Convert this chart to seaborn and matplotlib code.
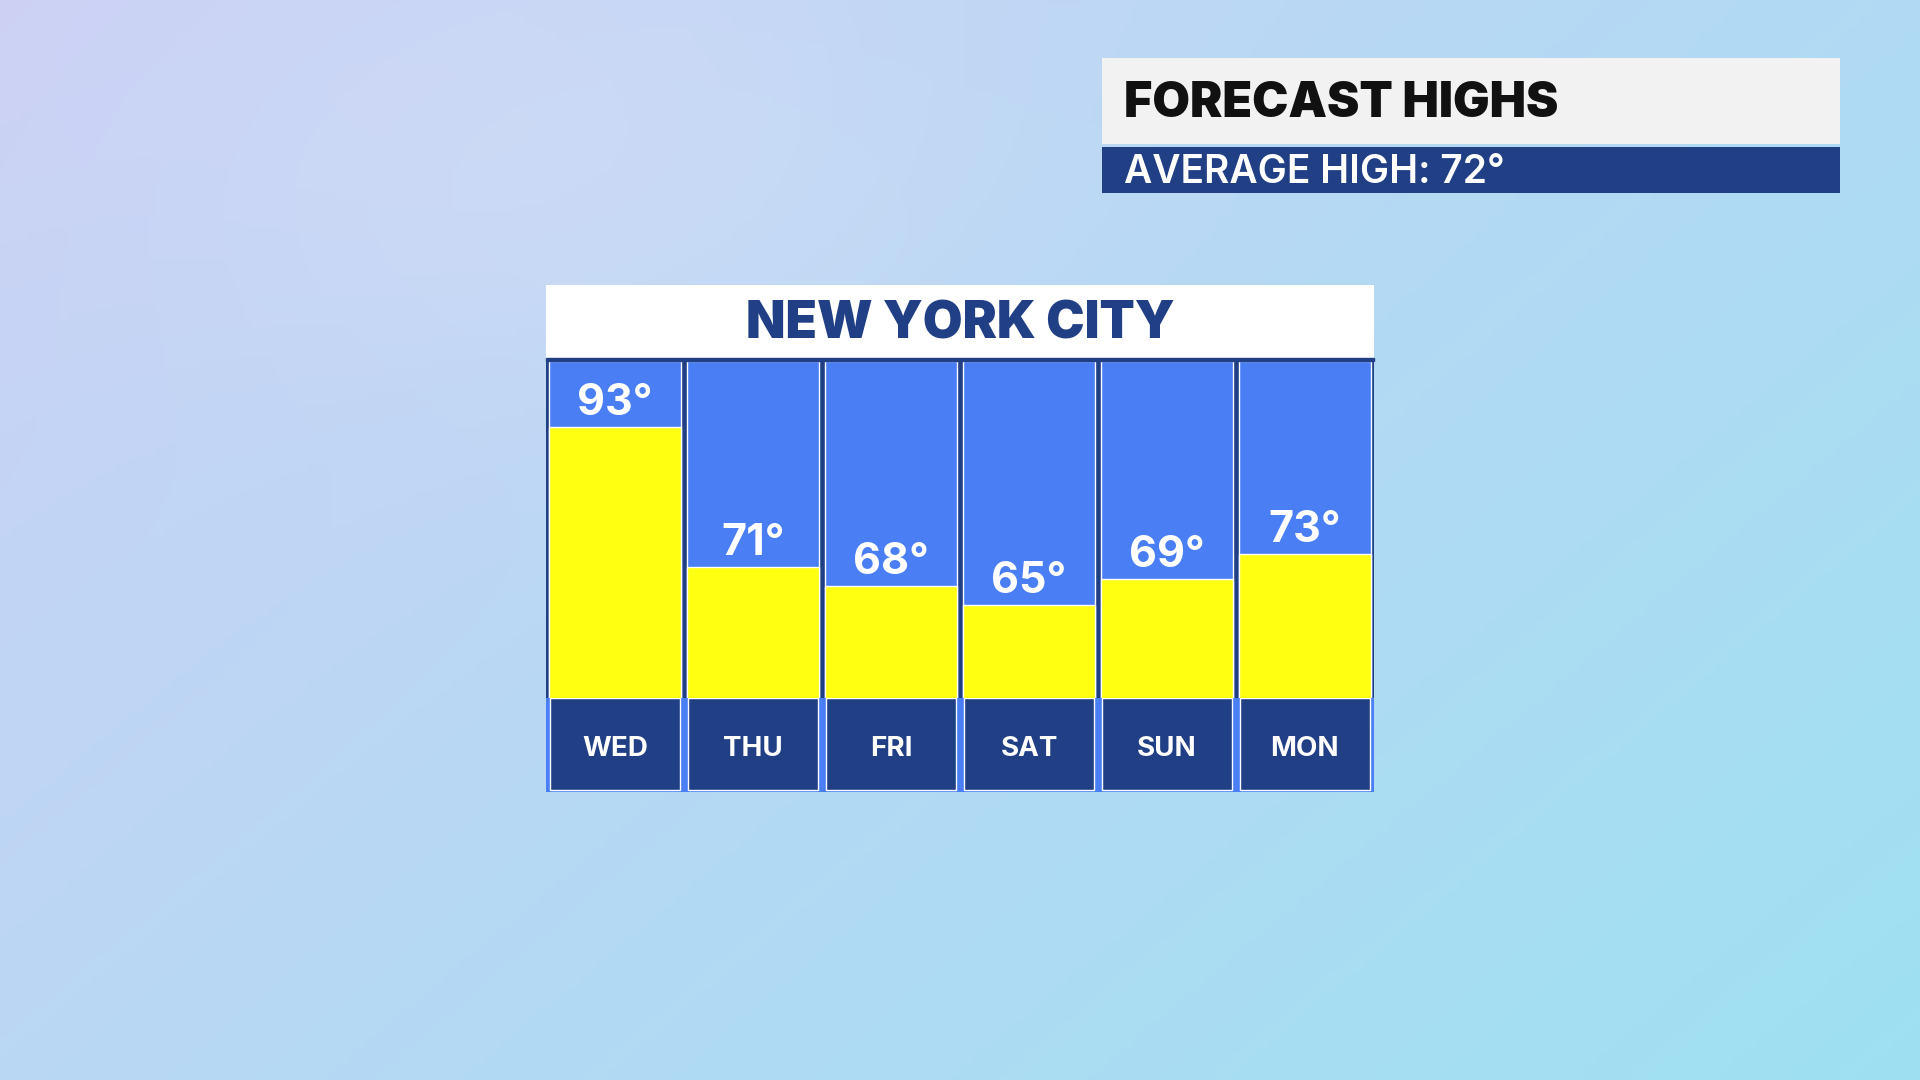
import numpy as np
import pandas as pd
import matplotlib
matplotlib.use("Agg")
import matplotlib.pyplot as plt
import seaborn as sns

days = ["WED", "THU", "FRI", "SAT", "SUN", "MON"]
highs = [93, 71, 68, 65, 69, 73]
title = "NEW YORK CITY"
header = "FORECAST HIGHS"
subheader = "AVERAGE HIGH: 72°"

sns.set_theme(style="white")
plt.rcParams['font.family'] = ['Inter', 'DejaVu Sans']

W, H = 1568, 882
def box(x0, y0, x1, y1):
    return [x0 / W, 1 - y1 / H, (x1 - x0) / W, (y1 - y0) / H]

fig = plt.figure(figsize=(19.2, 10.8), dpi=100)

# background gradient
bg = fig.add_axes([0, 0, 1, 1])
yy, xx = np.mgrid[0:1:200j, 0:1:360j]
c1 = np.array([0.80, 0.82, 0.96])
c2 = np.array([0.62, 0.88, 0.95])
c3 = np.array([0.88, 0.90, 0.98])
t = np.clip(0.6 * xx + 0.4 * yy, 0, 1)[..., None]
img = c1 * (1 - t) + c2 * t
g = np.exp(-((xx - 0.3) ** 2 + (yy - 0.15) ** 2) / 0.05)[..., None]
img = img * (1 - 0.3 * g) + c3 * 0.3 * g
bg.imshow(np.clip(img, 0, 1), aspect="auto", extent=[0, 1, 0, 1], origin="upper")
bg.axis("off")

navy = "#213f85"
blue = "#4a7ef5"
yellow = "#ffff12"

df = pd.DataFrame({"day": days, "high": highs})
ymin, ymax = 50.3, 103.4

# bars axis
ax = fig.add_axes(box(446, 295, 1122, 570))
ax.set_facecolor(navy)
sns.barplot(data=df.assign(top=ymax), x="day", y="top", color=blue, width=0.96,
            saturation=1, ax=ax)
sns.barplot(data=df, x="day", y="high", color=yellow, width=0.96, saturation=1, ax=ax)
ax.set_ylim(ymin, ymax)
ax.set_xlim(-0.5, len(days) - 0.5)
for i, v in enumerate(highs):
    ax.text(i, v + 0.5, f"{v}°", ha="center", va="bottom", color="white",
            fontsize=31, fontweight="bold")
ax.set_xlabel(""); ax.set_ylabel("")
ax.set_xticks([]); ax.set_yticks([])
for s in ax.spines.values():
    s.set_visible(False)

# day label axis
lx = fig.add_axes(box(446, 570, 1122, 647))
lx.set_facecolor(blue)
sns.barplot(data=df.assign(one=1), x="day", y="one", color=navy, width=0.94,
            saturation=1, ax=lx)
lx.set_ylim(-0.02, 1.0)
lx.set_xlim(-0.5, len(days) - 0.5)
for i, d in enumerate(days):
    lx.text(i, 0.45, d, ha="center", va="center", color="white", fontsize=20,
            fontweight="bold")
lx.set_xlabel(""); lx.set_ylabel(""); lx.set_xticks([]); lx.set_yticks([])
for s in lx.spines.values():
    s.set_visible(False)

# title box
tx = fig.add_axes(box(446, 233, 1122, 292))
tx.set_facecolor("white")
tx.text(0.5, 0.45, title, ha="center", va="center", color=navy, fontsize=37,
        fontweight="black", transform=tx.transAxes)
tx.set_xticks([]); tx.set_yticks([])
for s in tx.spines.values():
    s.set_visible(False)
fig.add_artist(plt.Rectangle((446 / W, 1 - 295 / H), 676 / W, 3 / H,
                             transform=fig.transFigure, color=navy))

# header box
hx = fig.add_axes(box(900, 47, 1503, 118))
hx.set_facecolor("#f2f2f2")
hx.text(0.03, 0.46, header, ha="left", va="center", color="#111111", fontsize=35,
        fontweight="black", transform=hx.transAxes)
hx.set_xticks([]); hx.set_yticks([])
for s in hx.spines.values():
    s.set_visible(False)
sx = fig.add_axes(box(900, 120, 1503, 158))
sx.set_facecolor(navy)
sx.text(0.03, 0.45, subheader, ha="left", va="center", color="white", fontsize=28,
        fontweight="semibold", transform=sx.transAxes)
sx.set_xticks([]); sx.set_yticks([])
for s in sx.spines.values():
    s.set_visible(False)

fig.savefig("out.png", dpi=100)
